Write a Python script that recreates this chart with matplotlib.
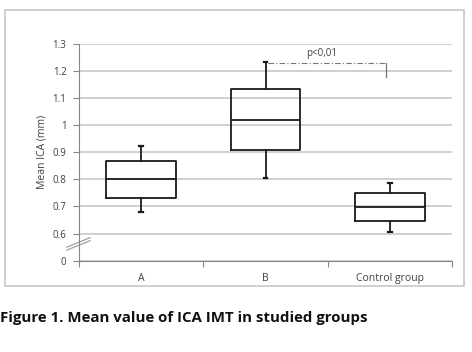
import matplotlib
matplotlib.use("Agg")
from matplotlib import pyplot as plt
from matplotlib.patches import Rectangle

groups = ["A", "B", "Control group"]
whislo = [0.68, 0.804, 0.605]
q1 = [0.732, 0.908, 0.648]
med = [0.80, 1.02, 0.698]
q3 = [0.868, 1.134, 0.748]
whishi = [0.921, 1.233, 0.788]

ytick_vals = [0.5, 0.6, 0.7, 0.8, 0.9, 1.0, 1.1, 1.2, 1.3]
ytick_labels = ["0", "0.6", "0.7", "0.8", "0.9", "1", "1.1", "1.2", "1.3"]

plt.rcParams['font.family'] = ['Open Sans', 'DejaVu Sans']

fig = plt.figure(figsize=(4.72, 3.52), dpi=100)
ax = fig.add_axes([0.1674, 0.2594, 0.7902, 0.617])

# outer chart frame
fig.patches.append(Rectangle((4.5 / 472, 1 - 285.5 / 352), 459.5 / 472, 275.5 / 352,
                             transform=fig.transFigure, fill=False,
                             edgecolor="#c8c8c8", linewidth=1.2))

stats = []
for i, g in enumerate(groups):
    stats.append(dict(label=g, whislo=whislo[i], q1=q1[i], med=med[i],
                      q3=q3[i], whishi=whishi[i], fliers=[]))

line = dict(color="#1a1a1a", linewidth=1.3)
ax.bxp(stats, positions=range(len(groups)), widths=0.56, capwidths=0.03,
       boxprops=line, medianprops=line, whiskerprops=line,
       capprops=dict(color="#1a1a1a", linewidth=1.6), showfliers=False)

ax.set_xlim(-0.5, 2.5)
ax.set_ylim(0.5, 1.3)
ax.set_yticks(ytick_vals)
ax.set_yticklabels(ytick_labels)
ax.yaxis.grid(True, color="#c4c4c4", linewidth=1.1)
ax.set_axisbelow(True)

ax.set_xticks([-0.5, 0.5, 1.5, 2.5])
ax.set_xticklabels([])
ax.set_xticks(range(len(groups)), minor=True)
ax.set_xticklabels(groups, minor=True)
ax.tick_params(axis="x", which="minor", length=0, pad=9, labelsize=7.5, labelcolor="#404040")
ax.tick_params(axis="x", which="major", length=4, color="#868686")
ax.tick_params(axis="y", length=4, color="#868686", labelsize=7, labelcolor="#404040", pad=5)

for s in ["top", "right"]:
    ax.spines[s].set_visible(False)
for s in ["left", "bottom"]:
    ax.spines[s].set_color("#868686")

ax.set_ylabel("Mean ICA (mm)", fontsize=7.5, color="#404040", labelpad=4)

# axis break marks
for dy in (0, 0.011):
    ax.plot([-0.597, -0.41], [0.539 + dy, 0.574 + dy], color="#a0a0a0",
            linewidth=0.9, clip_on=False)

# significance annotation
ax.plot([1.02, 1.97], [whishi[1] - 0.004, whishi[1] - 0.004], color="#777777",
        linewidth=0.8, linestyle=(0, (5, 2, 1, 2)))
ax.plot([1.97, 1.97], [whishi[1] - 0.004, 1.175], color="#777777", linewidth=0.9)
ax.text(1.45, 1.262, "p<0,01", fontsize=7, color="#404040", ha="center", va="center")

fig.text(0.0, 1 - 318 / 352, "Figure 1. Mean value of ICA IMT in studied groups",
         fontsize=10.8, fontweight="bold", color="#111111", va="center", ha="left")

fig.savefig("out.png", dpi=100)
